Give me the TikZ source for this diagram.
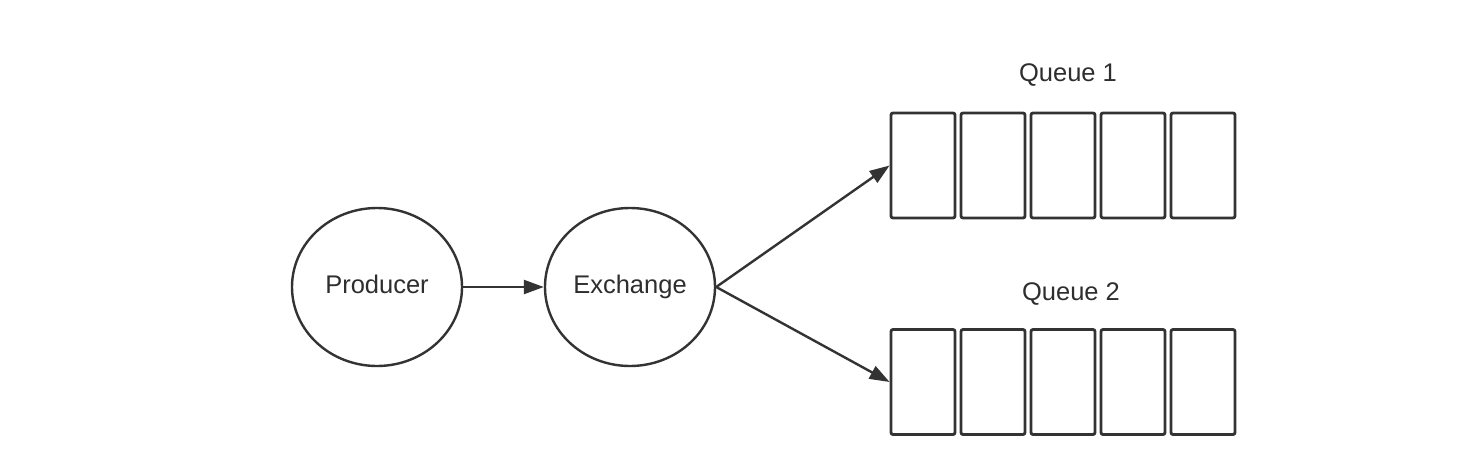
\documentclass[tikz,border=0pt]{standalone}
\usepackage{fontspec}
\setmainfont{Liberation Sans}
\usetikzlibrary{shapes.geometric,arrows.meta}
\definecolor{ink}{HTML}{333333}
\definecolor{txt}{HTML}{2E2E2E}
\begin{document}
\begin{tikzpicture}[x=1pt,y=-1pt,
  roundnode/.style={ellipse,draw=ink,line width=2.4pt,minimum width=170pt,minimum height=158pt,inner sep=0pt,
    text height=18pt,text depth=5pt,font=\fontsize{25.5}{30}\selectfont,text=txt},
  slot/.style={draw=ink,line width=2.8pt,rounded corners=2pt,minimum width=64pt,minimum height=105pt,inner sep=0pt},
  qlabel/.style={font=\fontsize{25.5}{30}\selectfont,text=txt},
  conn/.style={draw=ink,line width=2.4pt,-{Triangle[length=20pt,width=14pt]}}]
\useasboundingbox (0,0) rectangle (1460,472);
\fill[white] (0,0) rectangle (1460,472);
\node[roundnode] (prod) at (377,287) {Producer};
\node[roundnode] (exch) at (630,287) {Exchange};
\foreach \i in {1,...,5}{
  \node[slot] (qa\i) at ({923+70*(\i-1)},165.5) {};
  \node[slot] (qb\i) at ({923+70*(\i-1)},382) {};
}
\node[qlabel] (la) at (1068,75) {Queue 1};
\node[qlabel] (lb) at (1071,294) {Queue 2};
\draw[conn] (prod.east) -- (exch.west);
\draw[conn] (exch.east) -- (qa1.west);
\draw[conn] (exch.east) -- (qb1.west);
\end{tikzpicture}
\end{document}
